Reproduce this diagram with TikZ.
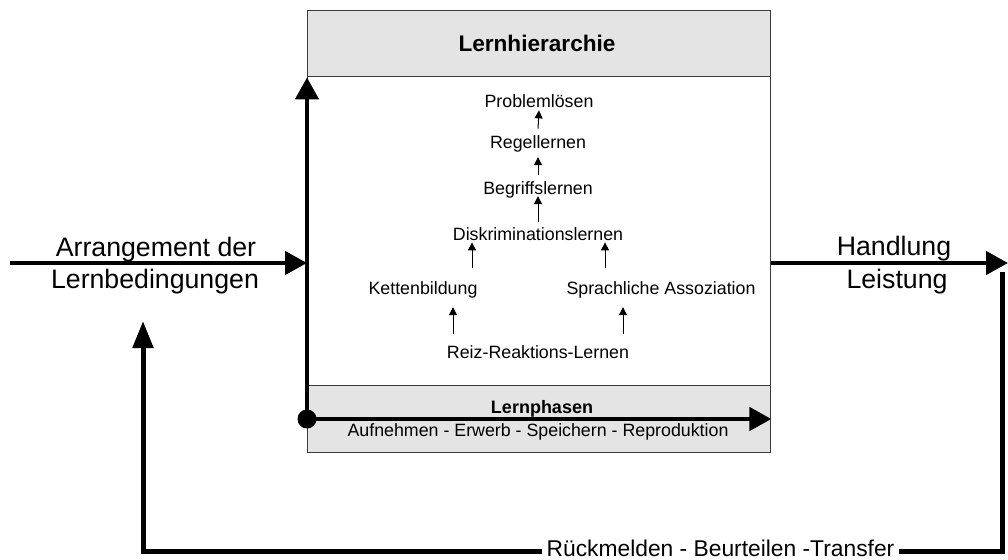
\documentclass[tikz,border=0pt]{standalone}
\usepackage{fontspec}
\setmainfont{Liberation Sans}
\usetikzlibrary{arrows.meta}
\definecolor{panelgrey}{HTML}{E4E4E4}
\definecolor{framegrey}{HTML}{3A3A3A}
\tikzset{
  frame/.style={draw=framegrey, line width=1.4pt, inner sep=0pt, anchor=north west},
  band/.style={frame, fill=panelgrey},
  heavyline/.style={line width=4.5pt},
  heavy/.style={heavyline, -{Triangle[length=22pt,width=23pt]}},
  feedback/.style={heavyline, line width=5pt, -{Triangle[length=27pt,width=20pt]}},
  level/.style={inner sep=0pt, anchor=base, font=\fontsize{17.8}{20}\selectfont},
  headline/.style={inner sep=0pt, anchor=base, font=\fontsize{22.6}{26}\selectfont\bfseries},
  phasehead/.style={inner sep=0pt, anchor=base, font=\fontsize{18}{20}\selectfont\bfseries},
  sidelabel/.style={inner sep=0pt, anchor=base, font=\fontsize{26.7}{30}\selectfont},
  looplabel/.style={fill=white, inner xsep=5pt, inner ysep=3pt, anchor=base, font=\fontsize{22.8}{26}\selectfont},
  thinarrow/.style={line width=1pt, -{Triangle[length=8pt,width=8pt]}},
}
\begin{document}
\begin{tikzpicture}[x=1pt,y=-1pt]
\useasboundingbox (0,0) rectangle (1008,559);

% main panel with header and phase band
\node[frame, minimum width=463pt, minimum height=442pt] (box) at (307,10) {};
\node[band, minimum width=463pt, minimum height=66pt] (head) at (307,10) {};
\node[band, minimum width=463pt, minimum height=67pt] (phaseband) at (307,385) {};

% texts in the panel
\node[headline] (hier) at (537,52) {Lernhierarchie};
\node[level] (prob) at (539,108) {Problemlösen};
\node[level] (reg)  at (538,148) {Regellernen};
\node[level] (begr) at (538,194) {Begriffslernen};
\node[level] (disk) at (538,240) {Diskriminationslernen};
\node[level] (kett) at (423,294) {Kettenbildung};
\node[level] (spr)  at (661,294) {Sprachliche Assoziation};
\node[level] (reiz) at (538,358) {Reiz-Reaktions-Lernen};
\node[phasehead] (phasen) at (542,413) {Lernphasen};
\node[level] (phases) at (538,436) {Aufnehmen - Erwerb - Speichern - Reproduktion};

% hierarchy arrows
\draw[thinarrow] ([yshift=6.2pt]reg.north) -- ([yshift=-2pt]prob.south);
\draw[thinarrow] ([yshift=6pt]begr.north) -- ([yshift=-5.3pt]reg.south);
\draw[thinarrow] ([yshift=5pt]disk.north) -- ([yshift=1.7pt]begr.south);
\draw[thinarrow] ([xshift=49pt,yshift=13pt]kett.north) -- ([xshift=-66pt,yshift=-2pt]disk.south);
\draw[thinarrow] ([xshift=-56pt,yshift=13pt]spr.north) -- ([xshift=67pt,yshift=-2pt]disk.south);
\draw[thinarrow] ([xshift=-85pt,yshift=11pt]reiz.north) -- ([xshift=30pt,yshift=-9.3pt]kett.south);
\draw[thinarrow] ([xshift=85pt,yshift=11pt]reiz.north) -- ([xshift=-38pt,yshift=-9.3pt]spr.south);

% side labels
\node[sidelabel] (arr1) at (156,256) {Arrangement der};
\node[sidelabel] (arr2) at (155,288) {Lernbedingungen};
\node[sidelabel] (hand) at (894,255) {Handlung};
\node[sidelabel] (leist) at (897,288) {Leistung};

% main flow
\coordinate (in) at (10,263);
\coordinate (out) at (1008,263);
\coordinate (start) at (307,419);
\draw[heavy] (in) -- (in -| box.west);
\draw[heavy] (start) -- (head.south west);
\draw[heavy] (start) -- (start -| box.east);
\fill (start) circle (9.5pt);
\draw[heavy] (out -| box.east) -- (out);

% feedback loop
\coordinate (fb1) at (1002,272);
\coordinate (fb2) at (1002,551);
\coordinate (fb3) at (143,551);
\coordinate (fb4) at (143,321);
\draw[feedback] (fb1) -- (fb2) -- (fb3) -- (fb4);
\node[looplabel] (loop) at (720.5,556) {Rückmelden - Beurteilen -Transfer};
\end{tikzpicture}
\end{document}
